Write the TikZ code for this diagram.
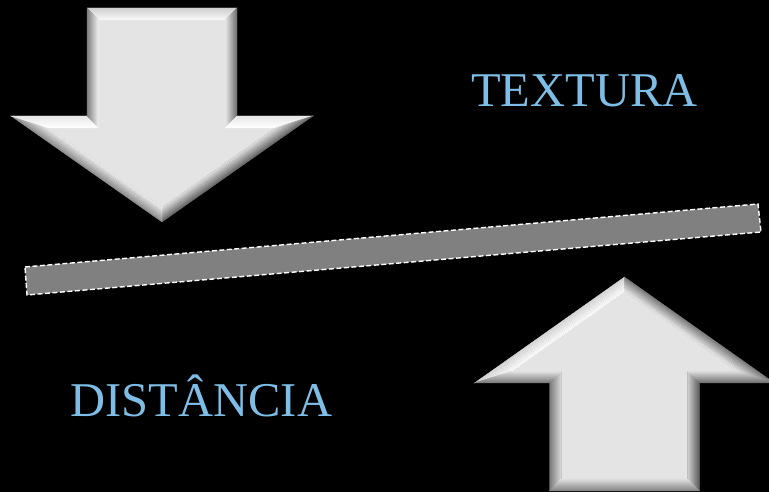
\documentclass[tikz,border=0pt]{standalone}
\usepackage{fontspec}
\setmainfont{Liberation Serif}
\usetikzlibrary{calc}

\definecolor{labelblue}{RGB}{126,190,230}
\definecolor{barfill}{RGB}{128,128,128}
\definecolor{facecol}{RGB}{228,228,228}
% bevel shades, named by grey level
\definecolor{g100}{RGB}{100,100,100}
\definecolor{g110}{RGB}{110,110,110}
\definecolor{g120}{RGB}{120,120,120}
\definecolor{g130}{RGB}{130,130,130}
\definecolor{g140}{RGB}{140,140,140}
\definecolor{g205}{RGB}{205,205,205}
\definecolor{g215}{RGB}{215,215,215}
\definecolor{g225}{RGB}{225,225,225}
\definecolor{g230}{RGB}{230,230,230}
\definecolor{g235}{RGB}{235,235,235}
\definecolor{g240}{RGB}{240,240,240}
\definecolor{g248}{RGB}{248,248,248}
\definecolor{g255}{RGB}{255,255,255}

% one bevel facet: outer corners #1,#2, inner corners #3 (under #2), #4 (under #1),
% shaded in strips from colour #5 (outer edge) to colour #6 (inner edge)
\newcommand\bevelfacet[6]{%
  \foreach \k in {0,...,11}{%
    \pgfmathsetmacro\ka{\k/12}%
    \pgfmathsetmacro\kb{(\k+1)/12}%
    \pgfmathtruncatemacro\mix{100-100*(\k+0.5)/12}%
    \filldraw[line width=0.25pt, color=#5!\mix!#6]
      ($(#1)!\ka!(#4)$) -- ($(#2)!\ka!(#3)$) -- ($(#2)!\kb!(#3)$) -- ($(#1)!\kb!(#4)$) -- cycle;
  }%
}

\tikzset{
  label text/.style={text=labelblue, font=\fontsize{48.5}{48.5}\selectfont, anchor=base, inner sep=0pt},
  divider/.style={fill=barfill, draw=white, line width=1.4pt, dash pattern=on 5pt off 2.5pt},
}

\begin{document}
\begin{tikzpicture}[x=1pt,y=1pt]
  \useasboundingbox (0,0) rectangle (769,492);
  \fill[black] (0,0) rectangle (769,492);
  \clip (0,0) rectangle (769,492);

  % ---- downward arrow (top left) ----
  \coordinate (A) at (87,484);  \coordinate (a) at (99,472);
  \coordinate (B) at (237,484); \coordinate (b) at (225,472);
  \coordinate (C) at (237,376); \coordinate (c) at (225,364);
  \coordinate (D) at (313,376); \coordinate (d) at (275,364);
  \coordinate (E) at (162,270); \coordinate (e) at (162,284.7);
  \coordinate (F) at (11,376);  \coordinate (f) at (49,364);
  \coordinate (G) at (87,376);  \coordinate (g) at (99,364);

  \fill[facecol] (a) -- (b) -- (c) -- (d) -- (e) -- (f) -- (g) -- cycle;
  \bevelfacet{A}{B}{b}{a}{g205}{g248}
  \bevelfacet{B}{C}{c}{b}{g110}{g235}
  \bevelfacet{C}{D}{d}{c}{g230}{g255}
  \bevelfacet{D}{E}{e}{d}{g100}{g225}
  \bevelfacet{E}{F}{f}{e}{g140}{g240}
  \bevelfacet{F}{G}{g}{f}{g230}{g255}
  \bevelfacet{G}{A}{a}{g}{g120}{g240}

  % ---- upward arrow (bottom right) ----
  \coordinate (LW) at (474.5,109); \coordinate (lw) at (512.5,121);
  \coordinate (T)  at (624.5,215); \coordinate (t)  at (624.5,200.3);
  \coordinate (RW) at (774.5,109); \coordinate (rw) at (736.5,121);
  \coordinate (RS) at (699.5,109); \coordinate (rs) at (687.5,121);
  \coordinate (RB) at (699.5,1);   \coordinate (rb) at (687.5,13);
  \coordinate (LB) at (549.5,1);   \coordinate (lb) at (561.5,13);
  \coordinate (LS) at (549.5,109); \coordinate (ls) at (561.5,121);

  \fill[facecol] (lw) -- (t) -- (rw) -- (rs) -- (rb) -- (lb) -- (ls) -- cycle;
  \bevelfacet{LW}{T}{t}{lw}{g215}{g255}
  \bevelfacet{T}{RW}{rw}{t}{g120}{g235}
  \bevelfacet{RW}{RS}{rs}{rw}{g110}{g225}
  \bevelfacet{RS}{RB}{rb}{rs}{g100}{g230}
  \bevelfacet{RB}{LB}{lb}{rb}{g130}{g225}
  \bevelfacet{LB}{LS}{ls}{lb}{g130}{g240}
  \bevelfacet{LS}{LW}{lw}{ls}{g120}{g230}

  % ---- slanted divider bar ----
  \coordinate (barTL) at (25,225);
  \coordinate (barTR) at (758,288);
  \coordinate (barBR) at (761,260);
  \coordinate (barBL) at (27,197);
  \path[divider] (barTL) -- (barTR) -- (barBR) -- (barBL) -- cycle;

  % ---- labels ----
  \node[label text] (textura) at (584.5,385) {TEXTURA};
  \node[label text] (distancia) at (201.5,75) {DISTÂNCIA};
\end{tikzpicture}
\end{document}
